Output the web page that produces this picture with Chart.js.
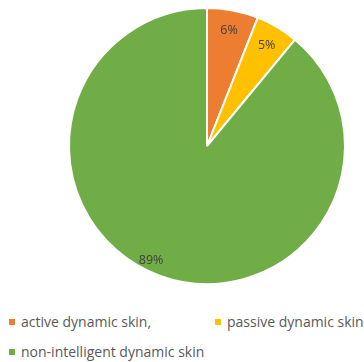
<!DOCTYPE html>
<html>
<head>
<meta charset="utf-8">
<script src="https://cdn.jsdelivr.net/npm/chart.js@4"></script>
<style>
  html, body { margin: 0; padding: 0; background: #fff; }
  #wrap { position: relative; width: 364px; height: 362px; overflow: hidden; }
  #chartBox { position: absolute; left: 0; top: 0; width: 364px; height: 292px; }
  #legend {
    position: absolute; left: 9px; top: 312px; width: 355px;
    display: grid; grid-template-columns: 206px 149px; row-gap: 11px;
    font-family: "Open Sans", "Liberation Sans", sans-serif; font-size: 14px; color: #595959;
  }
  .item { display: flex; align-items: center; white-space: nowrap; height: 19px; }
  .box { width: 6px; height: 6px; margin-right: 6px; flex: none; }
</style>
</head>
<body>
<div id="wrap">
  <div id="chartBox"><canvas id="pie"></canvas></div>
  <div id="legend"></div>
</div>
<script>
// values
const labels = ["active dynamic skin,", "passive dynamic skin", "non-intelligent dynamic skin"];
const values = [6, 5, 89];
const colors = ["#ED7D31", "#FFC000", "#70AD47"];

// percentage labels inside the slices
const sliceLabels = {
  id: 'sliceLabels',
  afterDatasetsDraw(chart) {
    const ctx = chart.ctx;
    const meta = chart.getDatasetMeta(0);
    ctx.save();
    ctx.font = '12.5px "Open Sans", "Liberation Sans", sans-serif';
    ctx.fillStyle = '#404040';
    ctx.textAlign = 'center';
    ctx.textBaseline = 'middle';
    meta.data.forEach((arc, i) => {
      // the big slice's label sits a bit further round, like the original
      const mid = (arc.startAngle + arc.endAngle) / 2 + (i === 2 ? 0.11 : 0);
      const r = arc.outerRadius * (i === 2 ? 0.92 : 0.85);
      ctx.fillText(values[i] + '%', arc.x + Math.cos(mid) * r, arc.y + Math.sin(mid) * r);
    });
    ctx.restore();
  }
};

new Chart(document.getElementById('pie'), {
  type: 'pie',
  data: { labels, datasets: [{ data: values, backgroundColor: colors, borderColor: '#fff', borderWidth: 2 }] },
  options: {
    responsive: true,
    maintainAspectRatio: false,
    animation: false,
    layout: { padding: { left: 68, right: 18, top: 7, bottom: 7 } },
    plugins: { legend: { display: false }, tooltip: { enabled: false } }
  },
  plugins: [sliceLabels]
});

// legend built from the same arrays
const legend = document.getElementById('legend');
labels.forEach((l, i) => {
  const item = document.createElement('div');
  item.className = 'item';
  item.innerHTML = `<span class="box" style="background:${colors[i]}"></span><span>${l}</span>`;
  legend.appendChild(item);
});
</script>
</body>
</html>
